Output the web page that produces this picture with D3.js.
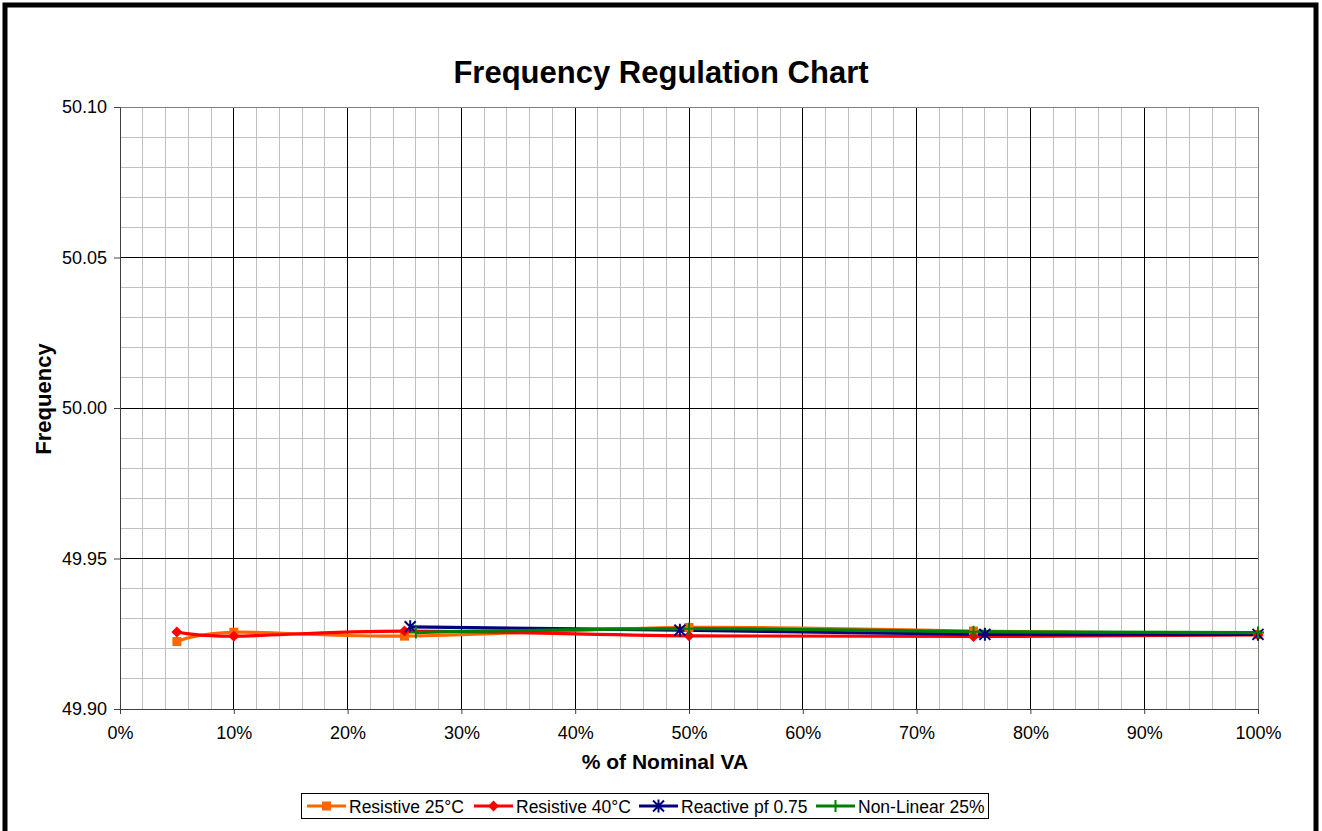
<!DOCTYPE html>
<html>
<head>
<meta charset="utf-8">
<script src="https://cdn.jsdelivr.net/npm/d3@7"></script>
<style>
  html, body { margin: 0; padding: 0; background: #fff; }
  svg { display: block; font-family: "Liberation Sans", Arial, sans-serif; }
</style>
</head>
<body>
<svg id="chart" width="1322" height="831"></svg>
<script>
// ---- data ----
const title = "Frequency Regulation Chart";
const xLabel = "% of Nominal VA";
const yLabel = "Frequency";
const seriesNames = ["Resistive 25°C", "Resistive 40°C", "Reactive pf 0.75", "Non-Linear 25%"];
const seriesColors = ["#ff6600", "#ff0000", "#000080", "#008000"];
const seriesMarkers = ["square", "diamond", "asterisk", "plus"];

const res25X = [5, 10, 25, 50, 75, 100];
const res25Y = [49.9224, 49.9255, 49.9242, 49.9271, 49.9259, 49.9248];
const res40X = [5, 10, 25, 50, 75, 100];
const res40Y = [49.9256, 49.9242, 49.9259, 49.9243, 49.9241, 49.9246];
const reactX = [25.5, 49.2, 76, 100];
const reactY = [49.9273, 49.9262, 49.9248, 49.9248];
const nonLinX = [26, 50, 75, 100];
const nonLinY = [49.9254, 49.9267, 49.9257, 49.9254];

const xTicks = [0, 10, 20, 30, 40, 50, 60, 70, 80, 90, 100];
const yTicks = [49.90, 49.95, 50.00, 50.05, 50.10];

// ---- layout ----
const svg = d3.select("#chart");
const plot = { left: 120, right: 1258, top: 107, bottom: 709 };

const x = d3.scaleLinear().domain([0, 100]).range([plot.left, plot.right]);
const y = d3.scaleLinear().domain([49.90, 50.10]).range([plot.bottom, plot.top]);

// outer frame
svg.append("rect").attr("x", 5).attr("y", 5).attr("width", 1311).attr("height", 840)
  .attr("fill", "#fff").attr("stroke", "#000").attr("stroke-width", 5);

// title
svg.append("text").attr("x", 661).attr("y", 83).attr("text-anchor", "middle")
  .attr("font-size", 31).attr("font-weight", "bold").text(title);

// minor grid
const minorX = d3.range(0, 100.001, 2).filter(v => v % 10 !== 0);
const minorY = d3.range(0, 20.001, 1).map(i => 49.90 + i * 0.01).filter((v, i) => i % 5 !== 0);
const g = svg.append("g");
g.selectAll(".mx").data(minorX).join("line")
  .attr("x1", d => x(d)).attr("x2", d => x(d)).attr("y1", plot.top).attr("y2", plot.bottom)
  .attr("stroke", "#c0c0c0").attr("stroke-width", 1).attr("shape-rendering", "crispEdges");
g.selectAll(".my").data(minorY).join("line")
  .attr("x1", plot.left).attr("x2", plot.right).attr("y1", d => y(d)).attr("y2", d => y(d))
  .attr("stroke", "#c0c0c0").attr("stroke-width", 1).attr("shape-rendering", "crispEdges");
// major grid
g.selectAll(".Mx").data(xTicks.filter(v => v > 0 && v < 100)).join("line")
  .attr("x1", d => x(d)).attr("x2", d => x(d)).attr("y1", plot.top).attr("y2", plot.bottom)
  .attr("stroke", "#000").attr("stroke-width", 1).attr("shape-rendering", "crispEdges");
g.selectAll(".My").data(yTicks.filter(v => v > 49.901 && v < 50.099)).join("line")
  .attr("x1", plot.left).attr("x2", plot.right).attr("y1", d => y(d)).attr("y2", d => y(d))
  .attr("stroke", "#000").attr("stroke-width", 1).attr("shape-rendering", "crispEdges");
// plot border
svg.append("rect").attr("x", plot.left).attr("y", plot.top)
  .attr("width", plot.right - plot.left).attr("height", plot.bottom - plot.top)
  .attr("fill", "none").attr("stroke", "#808080").attr("stroke-width", 1).attr("shape-rendering", "crispEdges");

// axes
const xAxis = d3.axisBottom(x).tickValues(xTicks).tickFormat(d => d + "%").tickSize(5).tickSizeOuter(0).tickPadding(12);
const yAxis = d3.axisLeft(y).tickValues(yTicks).tickFormat(d3.format(".2f")).tickSize(6).tickSizeOuter(0).tickPadding(7);
const gx = svg.append("g").attr("transform", `translate(0,${plot.bottom})`).call(xAxis);
const gy = svg.append("g").attr("transform", `translate(${plot.left},0)`).call(yAxis);
[gx, gy].forEach(a => {
  a.selectAll("text").attr("font-size", 18).attr("fill", "#000").attr("font-family", "Liberation Sans, Arial, sans-serif");
  a.selectAll("line").attr("stroke", "#404040");
  a.select(".domain").attr("stroke", "#404040");
});

// axis labels
svg.append("text").attr("x", 665).attr("y", 769).attr("text-anchor", "middle")
  .attr("font-size", 21).attr("font-weight", "bold").text(xLabel);
svg.append("text").attr("transform", "translate(51,399) rotate(-90)").attr("text-anchor", "middle")
  .attr("font-size", 22).attr("font-weight", "bold").text(yLabel);

// series
const series = [
  { xs: res25X, ys: res25Y },
  { xs: res40X, ys: res40Y },
  { xs: reactX, ys: reactY },
  { xs: nonLinX, ys: nonLinY }
].map((s, i) => ({
  name: seriesNames[i], color: seriesColors[i], marker: seriesMarkers[i],
  pts: s.xs.map((v, j) => ({ x: v, y: s.ys[j] }))
}));

const line = d3.line().x(d => x(d.x)).y(d => y(d.y)).curve(d3.curveCatmullRom.alpha(0));

function drawMarker(sel, type, color, cx, cy) {
  const m = sel.append("g").attr("transform", `translate(${cx},${cy})`);
  if (type === "square") {
    m.append("rect").attr("x", -4.5).attr("y", -4.5).attr("width", 9).attr("height", 9).attr("fill", color);
  } else if (type === "diamond") {
    m.append("path").attr("d", "M0,-5.5L5.5,0L0,5.5L-5.5,0Z").attr("fill", color);
  } else if (type === "asterisk") {
    m.append("path").attr("d", "M-5.5,-5.5L5.5,5.5M-5.5,5.5L5.5,-5.5M0,-6.5L0,6.5")
      .attr("stroke", color).attr("stroke-width", 2).attr("fill", "none");
  } else if (type === "plus") {
    m.append("path").attr("d", "M0,-6L0,6M-6,0L6,0")
      .attr("stroke", color).attr("stroke-width", 2).attr("fill", "none");
  }
}

const sg = svg.append("g");
series.forEach(s => {
  sg.append("path").datum(s.pts).attr("d", line).attr("fill", "none")
    .attr("stroke", s.color).attr("stroke-width", 3.2).attr("stroke-linejoin", "round");
});
series.forEach(s => {
  s.pts.forEach(p => drawMarker(sg, s.marker, s.color, x(p.x), y(p.y)));
});

// legend
const lg = svg.append("g");
lg.append("rect").attr("x", 301.5).attr("y", 793.5).attr("width", 687).attr("height", 25)
  .attr("fill", "#fff").attr("stroke", "#000").attr("stroke-width", 1);
const legendX = [307, 474, 639, 816];
series.forEach((s, i) => {
  const lx = legendX[i], ly = 806;
  lg.append("line").attr("x1", lx).attr("x2", lx + 39).attr("y1", ly).attr("y2", ly)
    .attr("stroke", s.color).attr("stroke-width", 3);
  drawMarker(lg, s.marker, s.color, lx + 19.5, ly);
  lg.append("text").attr("x", lx + 42).attr("y", ly + 6.5).attr("font-size", 17.5).text(s.name);
});
</script>
</body>
</html>
